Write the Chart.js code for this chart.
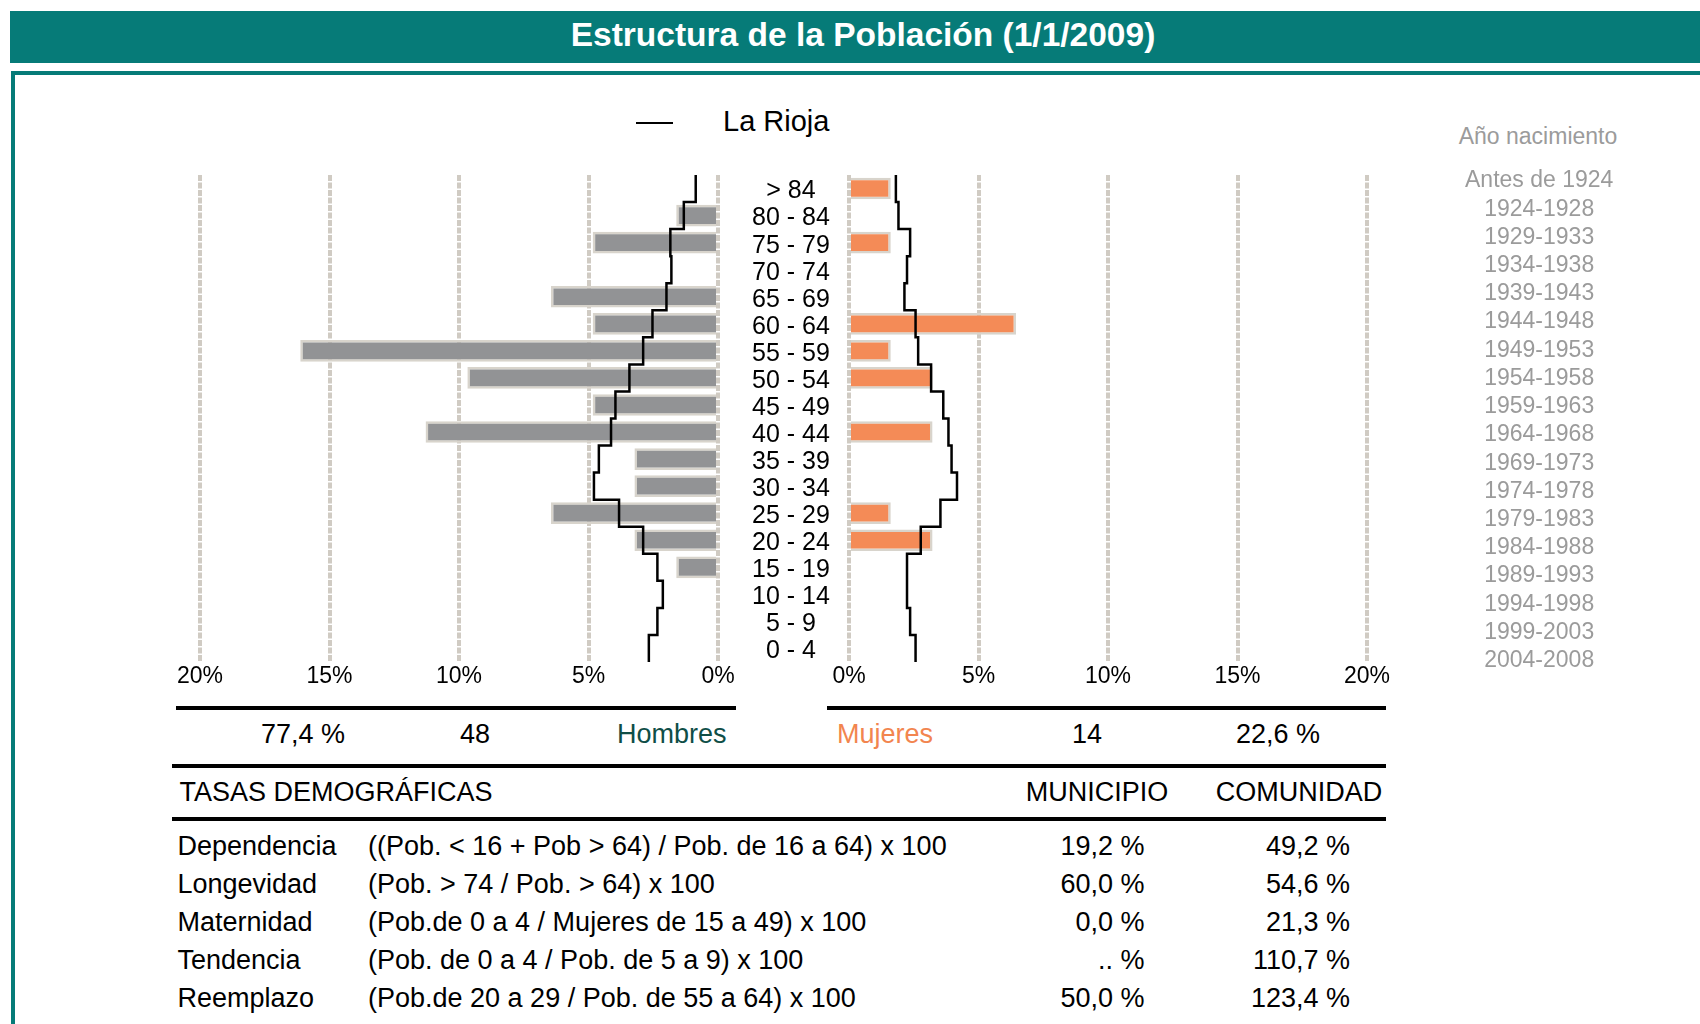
<!DOCTYPE html>
<html lang="es">
<head>
<meta charset="utf-8">
<title>Estructura de la Población (1/1/2009)</title>
<script src="https://cdn.jsdelivr.net/npm/chart.js@4.4.1/dist/chart.umd.min.js"></script>
<style>
  html, body { margin: 0; padding: 0; }
  body {
    width: 1700px; height: 1024px; overflow: hidden; position: relative; background: #fff;
    font-family: "Liberation Sans", Arial, Helvetica, sans-serif; color: #000;
  }
  .abs { position: absolute; line-height: 1; white-space: nowrap; }
  .rule { position: absolute; background: #000; }
  #header { position: absolute; left: 10px; top: 11px; width: 1690px; height: 52px; background: #067b78; }
  #frame {
    position: absolute; left: 11px; top: 71px; width: 1720px; height: 1000px;
    border-top: 4px solid #067b78; border-left: 4px solid #067b78;
  }
  canvas { position: absolute; }
</style>
</head>
<body>
<div id="header"></div>
<div id="frame"></div>
<div class="abs" style="left:463px;width:800px;text-align:center;top:18.3px;font-size:33.5px;font-weight:bold;color:#fff;">Estructura de la Población (1/1/2009)</div>

<!-- legend -->
<div class="rule" style="left:636px;top:122px;width:37px;height:2px;"></div>
<div class="abs" style="left:723px;top:107.3px;font-size:29px;">La Rioja</div>

<div class="abs" style="left:1438px;width:200px;text-align:center;top:124.8px;font-size:23px;color:#9b9b9b;">Año nacimiento</div>

<canvas id="menChart" width="688" height="537" style="left:160px;top:165px;"></canvas>
<canvas id="womenChart" width="808" height="537" style="left:809px;top:165px;"></canvas>

<div class="rule" style="left:176px;top:706px;width:560px;height:4px;"></div>
<div class="rule" style="left:827px;top:706px;width:559px;height:4px;"></div>
<div class="rule" style="left:172px;top:764px;width:1214px;height:4px;"></div>
<div class="rule" style="left:172px;top:817px;width:1214px;height:4px;"></div>

<div id="texts"></div>

<script>
// Age groups, top row first
const ageGroups = ['> 84', '80 - 84', '75 - 79', '70 - 74', '65 - 69', '60 - 64', '55 - 59', '50 - 54', '45 - 49',
    '40 - 44', '35 - 39', '30 - 34', '25 - 29', '20 - 24', '15 - 19', '10 - 14', '5 - 9', '0 - 4'];
const birthYears = ['Antes de 1924', '1924-1928', '1929-1933', '1934-1938', '1939-1943', '1944-1948', '1949-1953',
    '1954-1958', '1959-1963', '1964-1968', '1969-1973', '1974-1978', '1979-1983', '1984-1988', '1989-1993',
    '1994-1998', '1999-2003', '2004-2008'];

// Municipality population (persons per group)
const menCount = [0, 1, 3, 0, 4, 3, 10, 6, 3, 7, 2, 2, 4, 2, 1, 0, 0, 0];
const womenCount = [1, 0, 1, 0, 0, 4, 1, 2, 0, 2, 0, 0, 1, 2, 0, 0, 0, 0];

// La Rioja profile (% of total population)
const riojaMen = [0.86, 1.32, 1.84, 1.80, 1.99, 2.53, 2.89, 3.42, 3.96, 4.13, 4.60, 4.79, 3.82, 2.89, 2.34, 2.13, 2.34, 2.67];
const riojaWomen = [1.81, 1.91, 2.36, 2.24, 2.14, 2.57, 2.67, 3.17, 3.64, 3.84, 3.96, 4.17, 3.53, 2.77, 2.24, 2.24, 2.36, 2.57];

const axisTicks = [0, 5, 10, 15, 20];

// Demographic rates
const rateNames = ['Dependencia', 'Longevidad', 'Maternidad', 'Tendencia', 'Reemplazo'];
const rateFormulas = ['((Pob. < 16 + Pob > 64) / Pob. de 16 a 64) x 100', '(Pob. > 74 / Pob. > 64) x 100',
    '(Pob.de 0 a 4 / Mujeres de 15 a 49) x 100', '(Pob. de 0 a 4 / Pob. de 5 a 9) x 100',
    '(Pob.de 20 a 29 / Pob. de 55 a 64) x 100'];
const rateMunicipio = ['19,2 %', '60,0 %', '0,0 %', '.. %', '50,0 %'];
const rateComunidad = ['49,2 %', '54,6 %', '21,3 %', '110,7 %', '123,4 %'];

const FONT = '"Liberation Sans", Arial, Helvetica, sans-serif';
const GRID = '#d0cbc3';
const BAR_BORDER = '#d8d4cc';

Chart.defaults.font.family = FONT;

const menTotal = menCount.reduce((a, b) => a + b, 0);
const womenTotal = womenCount.reduce((a, b) => a + b, 0);
const totalPop = menTotal + womenTotal;
const pct = c => c / totalPop * 100;

// one vertical segment per row, joined at the row boundaries
function stepPoints(values) {
    const pts = [];
    values.forEach((v, i) => {
        pts.push({ x: v, y: i - 0.5 });
        pts.push({ x: v, y: i + 0.5 });
    });
    return pts;
}

// side axes: fixed width, and no extra top/bottom room for the labels
function fixSide(width) {
    return s => {
        s.width = width;
        s.paddingTop = 0;
        s.paddingBottom = 0;
    };
}

function buildSide(canvasId, counts, rioja, color, isLeft) {
    const scales = {
        x: {
            type: 'linear', min: 0, max: 20, reverse: isLeft,
            afterBuildTicks: s => { s.ticks = axisTicks.map(v => ({ value: v })); },
            afterFit: s => { s.height = 40; },
            grid: { color: GRID, lineWidth: 4, drawTicks: false },
            border: { display: false, dash: [6, 1.5] },
            ticks: { color: '#000', font: { size: 23 }, padding: 1, maxRotation: 0, callback: v => v + '%' }
        },
        y: {
            type: 'category', offset: true, position: 'right', display: isLeft,
            grid: { display: false }, border: { display: false },
            ticks: { autoSkip: false, color: '#000', font: { size: 25 }, crossAlign: 'center', padding: 26, labelOffset: 3 }
        },
        yStep: { type: 'linear', display: false, min: -0.5, max: 17.5, reverse: true, offset: false }
    };
    if (isLeft) {
        scales.y.afterFit = fixSide(130);
    } else {
        // birth-year column, spaced a little wider than the age rows
        scales.yYear = {
            type: 'linear', min: -0.213, max: 17.042, reverse: true, offset: false, position: 'right',
            afterBuildTicks: s => { s.ticks = birthYears.map((_, i) => ({ value: i })); },
            grid: { display: false }, border: { display: false },
            afterFit: fixSide(250),
            ticks: {
                autoSkip: false, color: '#9b9b9b', font: { size: 23 }, crossAlign: 'center', padding: 90,
                callback: v => birthYears[v]
            }
        };
    }

    return new Chart(document.getElementById(canvasId), {
        type: 'bar',
        data: {
            labels: ageGroups,
            datasets: [
                {
                    type: 'line',
                    data: stepPoints(rioja),
                    xAxisID: 'x',
                    yAxisID: 'yStep',
                    borderColor: '#000',
                    borderWidth: 2.5,
                    pointRadius: 0,
                    tension: 0,
                    fill: false,
                    order: 0
                },
                {
                    type: 'bar',
                    data: counts.map(pct),
                    xAxisID: 'x',
                    yAxisID: 'y',
                    backgroundColor: color,
                    borderColor: BAR_BORDER,
                    borderWidth: 2.5,
                    grouped: false,
                    barPercentage: 0.8,
                    categoryPercentage: 1,
                    order: 1
                }
            ]
        },
        options: {
            indexAxis: 'y',
            responsive: false,
            animation: false,
            devicePixelRatio: 1,
            layout: { padding: { left: 40, top: 10, right: 0, bottom: 0 } },
            plugins: { legend: { display: false }, tooltip: { enabled: false } },
            scales: scales
        }
    });
}

buildSide('menChart', menCount, riojaMen, '#929395', true);
buildSide('womenChart', womenCount, riojaWomen, '#f48b57', false);

// Text below the pyramid
const box = document.getElementById('texts');
function place(text, x, cy, size, align, color) {
    const el = document.createElement('div');
    el.className = 'abs';
    el.textContent = text;
    el.style.fontSize = size + 'px';
    el.style.top = (cy - 0.4885 * size) + 'px';
    if (color) el.style.color = color;
    if (align === 'center') {
        el.style.left = (x - 200) + 'px'; el.style.width = '400px'; el.style.textAlign = 'center';
    } else if (align === 'right') {
        el.style.left = (x - 400) + 'px'; el.style.width = '400px'; el.style.textAlign = 'right';
    } else {
        el.style.left = x + 'px';
    }
    box.appendChild(el);
}

const fmtPct = v => v.toFixed(1).replace('.', ',') + ' %';
const FS = 27;
place(fmtPct(menTotal / totalPop * 100), 303, 734.5, FS, 'center');
place(String(menTotal), 475, 734.5, FS, 'center');
place('Hombres', 617, 734.5, FS, 'left', '#0f4e47');
place('Mujeres', 837, 734.5, FS, 'left', '#f2854f');
place(String(womenTotal), 1087, 734.5, FS, 'center');
place(fmtPct(womenTotal / totalPop * 100), 1278, 734.5, FS, 'center');

place('TASAS DEMOGRÁFICAS', 179.5, 792.5, FS, 'left');
place('MUNICIPIO', 1097, 792.5, FS, 'center');
place('COMUNIDAD', 1299, 792.5, FS, 'center');

rateNames.forEach((name, i) => {
    const cy = 845.7 + i * 38.1;
    place(name, 177.5, cy, FS, 'left');
    place(rateFormulas[i], 368, cy, FS, 'left');
    place(rateMunicipio[i], 1144.5, cy, FS, 'right');
    place(rateComunidad[i], 1350, cy, FS, 'right');
});
</script>
</body>
</html>
